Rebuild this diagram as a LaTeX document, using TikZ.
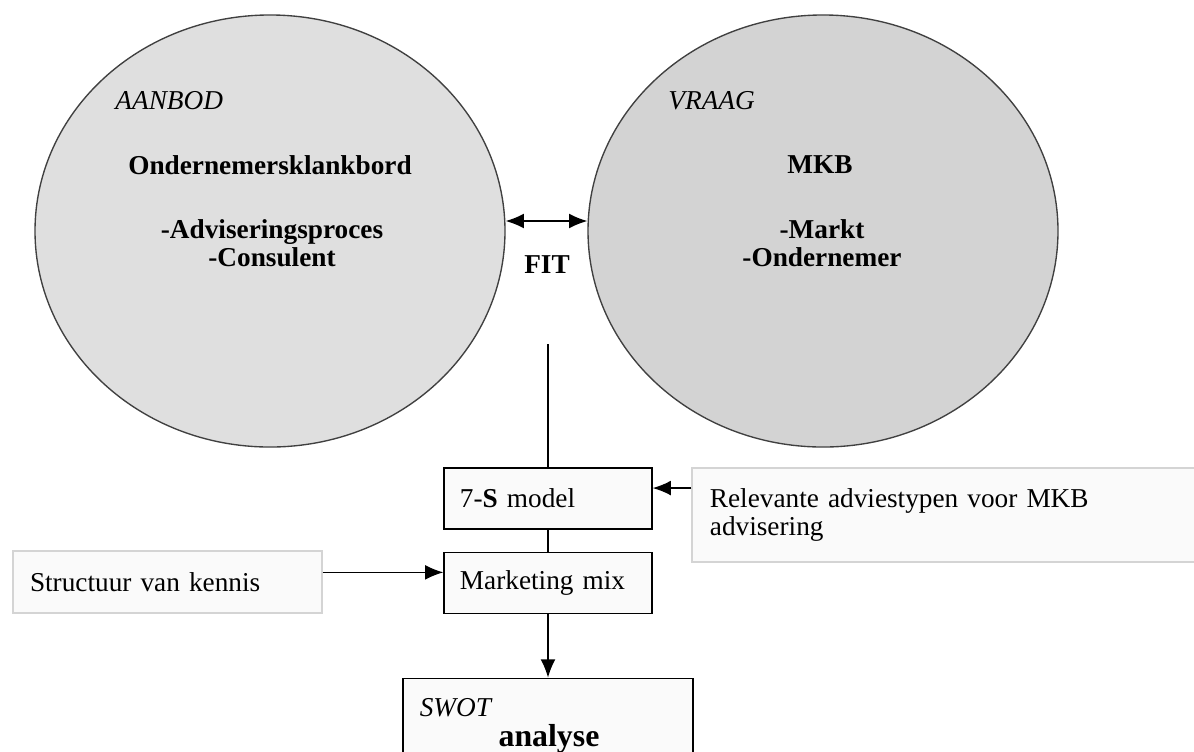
\documentclass[tikz,border=0pt]{standalone}
\usepackage{fontspec}
\setmainfont{Liberation Serif}
\usepackage{xcolor}
\usetikzlibrary{shapes,arrows.meta,positioning}
\definecolor{aanbodfill}{HTML}{DFDFDF}
\definecolor{vraagfill}{HTML}{D3D3D3}
\definecolor{rimgray}{HTML}{404040}
\definecolor{boxfill}{HTML}{FAFAFA}
\definecolor{paleline}{HTML}{D4D4D4}
\newcommand{\bodysize}{\fontsize{12}{12.5}\selectfont}

\begin{document}
\begin{tikzpicture}[x=0.44pt, y=-0.44pt, font=\bodysize]
    % Define styles
    \tikzstyle{party} = [ellipse, draw=rimgray, line width=0.6pt, minimum width=206.8pt, minimum height=190.1pt, inner sep=0pt]
    \tikzstyle{tool} = [rectangle, draw=black, line width=0.6pt, fill=boxfill, minimum width=91.5pt, minimum height=26.8pt, text width=77.5pt, inner xsep=7pt, inner ysep=0pt, align=left, font=\bodysize]
    \tikzstyle{outcome} = [rectangle, draw=black, line width=0.6pt, fill=boxfill, minimum width=127.6pt, minimum height=34pt, inner sep=0pt]
    \tikzstyle{source} = [rectangle, draw=paleline, line width=0.6pt, fill=boxfill, inner ysep=0pt, align=left, font=\bodysize]
    \tikzstyle{caption} = [inner sep=0pt]
    \tikzstyle{arrow} = [line width=0.6pt, ->, >={Latex[length=8pt, width=6.5pt]}]

    \useasboundingbox (0,0) rectangle (1194,751);

    % Supply and demand
    \node [party, fill=aanbodfill] (aanbod) at (270,231) {};
    \node [party, fill=vraagfill] (vraag) at (823,231) {};

    \node [caption, font=\bodysize\itshape, anchor=west] (aanbodlabel) at (115,101) {AANBOD};
    \node [caption, font=\bodysize\bfseries] (aanbodtitle) at (270,165) {Ondernemersklankbord};
    \node [caption, font=\bodysize\bfseries, align=center] (aanbodlist) at (272,243) {-Adviseringsproces\\-Consulent};

    \node [caption, font=\bodysize\itshape, anchor=west] (vraaglabel) at (668,101) {VRAAG};
    \node [caption, font=\bodysize\bfseries] (vraagtitle) at (820,165) {MKB};
    \node [caption, font=\bodysize\bfseries, align=center] (vraaglist) at (822,243) {-Markt\\-Ondernemer};

    \node [caption, font=\bodysize\bfseries] (fit) at (547,265) {FIT};
    \coordinate (fitleft) at ([yshift=4.4pt]aanbod.east);
    \coordinate (fitright) at ([yshift=4.4pt]vraag.west);
    \draw [arrow, <->] (fitleft) -- (fitright);

    % Analysis column
    \coordinate (fitfoot) at (548,344);
    \node [tool] (sevens) at (548,498.5) {7-\textbf{S} model};
    \node [tool, below=9.7pt of sevens] (mix) {Marketing mix};
    \node [outcome, below=28pt of mix] (swot) {};
    \node [caption, font=\bodysize\itshape, anchor=north west] (swotlabel) at ([xshift=7.5pt, yshift=-9pt]swot.north west) {SWOT};
    \node [caption, font=\fontsize{14}{16}\selectfont\bfseries] (swottext) at (549,739) {analyse};

    % Inputs
    \node [source, minimum width=221.8pt, minimum height=41.4pt, text width=206pt, inner xsep=7.9pt] (advies) at (944,515) {Relevante adviestypen voor MKB\\advisering};
    \node [source, minimum width=136pt, minimum height=27.3pt, text width=121pt, inner xsep=7.5pt] (kennis) at (167.5,582) {Structuur van kennis};

    % Connectors
    \draw [line width=0.6pt] (fitfoot) -- (sevens.north);
    \draw [line width=0.6pt] (sevens) -- (mix);
    \draw [arrow] (mix) -- (swot);
    \coordinate (sevensin) at ([yshift=4.6pt]sevens.east);
    \draw [arrow] (advies.west |- sevensin) -- (sevensin);
    \coordinate (mixin) at ([yshift=4.6pt]mix.west);
    \draw [arrow] (kennis.east |- mixin) -- (mixin);
\end{tikzpicture}
\end{document}
